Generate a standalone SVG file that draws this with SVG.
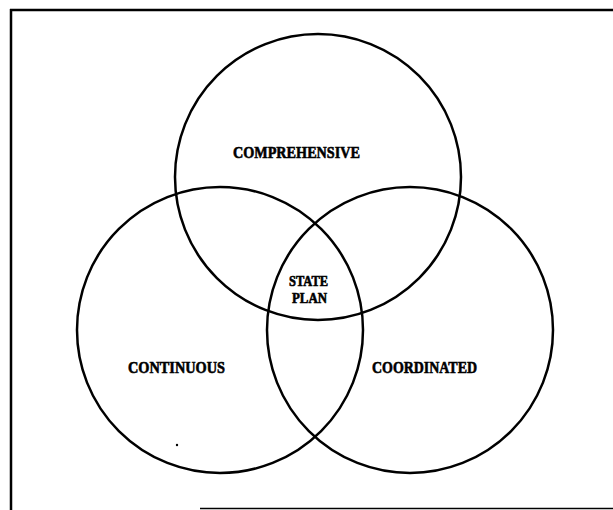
<svg xmlns="http://www.w3.org/2000/svg" width="613" height="510" viewBox="0 0 613 510">
<style>
.c{fill:none;stroke:#000;stroke-width:2.5}
.t{font-family:"Liberation Serif","DejaVu Serif",serif;font-weight:bold;font-size:16.5px;fill:#000;stroke:#000;stroke-width:0.6}
.s{font-size:14.5px}
.b{stroke:#000;fill:none}
</style>
<rect width="613" height="510" fill="#fff"/>
<g id="frame">
<line class="b" x1="10" y1="10" x2="613" y2="10" stroke-width="2.5"/>
<line class="b" x1="11" y1="9" x2="11" y2="510" stroke-width="2.5"/>
<line class="b" x1="200" y1="508.5" x2="613" y2="508.5" stroke-width="1.5"/>
</g>
<g id="comprehensive">
<circle class="c" cx="318" cy="177" r="143"/>
<text class="t" x="233" y="158" textLength="127" lengthAdjust="spacingAndGlyphs">COMPREHENSIVE</text>
</g>
<g id="continuous">
<circle class="c" cx="220" cy="330" r="143"/>
<text class="t" x="128" y="373" textLength="97" lengthAdjust="spacingAndGlyphs">CONTINUOUS</text>
</g>
<g id="coordinated">
<circle class="c" cx="410" cy="330" r="143"/>
<text class="t" x="372" y="373" textLength="105" lengthAdjust="spacingAndGlyphs">COORDINATED</text>
</g>
<g id="state-plan">
<text class="t s" x="289" y="286" textLength="39" lengthAdjust="spacingAndGlyphs">STATE</text>
<text class="t s" x="292" y="303" textLength="35" lengthAdjust="spacingAndGlyphs">PLAN</text>
</g>
<circle cx="177" cy="445" r="1.2" fill="#000"/>
</svg>
